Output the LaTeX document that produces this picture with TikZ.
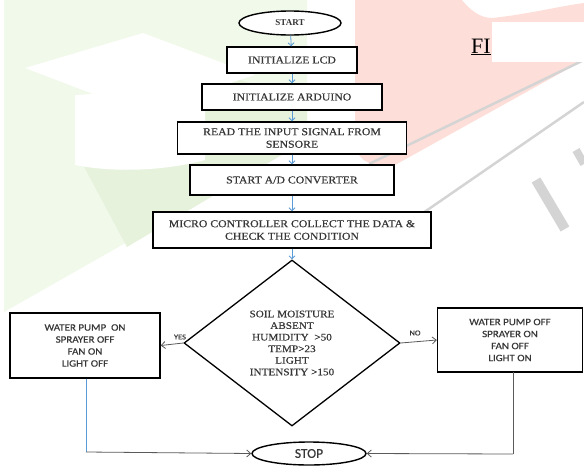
\documentclass[tikz,border=0pt]{standalone}
\usepackage{fontspec}
\setmainfont{Liberation Serif}
\newfontfamily\boxfont[FakeStretch=1.12,FakeBold=0.5]{Liberation Serif}
\newfontfamily\sidefont[FakeStretch=1.12,FakeBold=0.5]{Carlito}
\newfontfamily\stopfont[FakeBold=0.4]{Carlito}
\usetikzlibrary{shapes.geometric,arrows.meta}
\definecolor{flowblue}{RGB}{91,155,213}
\definecolor{txtgray}{RGB}{55,55,55}
\definecolor{wmgreen}{RGB}{241,249,234}
\definecolor{wmgreen2}{RGB}{231,242,221}
\definecolor{wmpink}{RGB}{253,222,216}
\definecolor{wmgray}{RGB}{212,212,212}
\definecolor{lingray}{RGB}{90,90,90}
\begin{document}
\begin{tikzpicture}[x=1pt,y=-1pt,
  procbox/.style={draw=black, fill=white, line width=1.4pt, rectangle, inner sep=0pt, align=center,
    text=txtgray, font=\boxfont\fontsize{10.5}{12.5}\selectfont},
  sidebox/.style={draw=black, fill=white, line width=1.4pt, rectangle, inner sep=0pt, align=center,
    text=txtgray, font=\sidefont\fontsize{9.8}{12}\selectfont},
  terminal/.style={draw=black, fill=white, line width=1.4pt, ellipse, inner sep=0pt},
  decision/.style={draw=black, line width=1.3pt, diamond, inner sep=0pt, align=center,
    text=txtgray, font=\boxfont\fontsize{10}{11.6}\selectfont},
  bluearrow/.style={draw=flowblue, line width=0.8pt, -{Straight Barb[length=3pt,width=6pt]}},
  grayarrow/.style={draw=lingray, line width=0.8pt, -{Straight Barb[length=4pt,width=7pt]}},
  blueline/.style={draw=flowblue, line width=0.9pt},
  grayline/.style={draw=lingray, line width=0.8pt},
  edgelabel/.style={text=txtgray, font=\sidefont\fontsize{7.5}{8}\selectfont, inner sep=0pt}
]
\useasboundingbox (0,0) rectangle (584,466);
% ---- watermark background ----
\fill[wmgreen] (4,0) -- (307,0) -- (307,140) -- (4,312) -- cycle;
\fill[wmgreen2] (75,150) -- (240,80) -- (307,100) -- (307,140) -- (127,247) -- cycle;
\fill[white] (25,68) -- (143,33) -- (255,75) -- (140,112) -- cycle;
\fill[white] (75,95) -- (205,88) -- (205,160) .. controls (160,172) and (110,172) .. (75,165) -- cycle;
\fill[wmpink] (355,0) -- (462,0) .. controls (470,10) and (480,18) .. (492,18)
  .. controls (530,14) and (560,6) .. (584,3) -- (584,60) -- (395,165)
  .. controls (370,168) and (355,160) .. (355,140) -- cycle;
\draw[wmgray, line width=2.5pt] (369,164) -- (584,60);
\draw[wmgray, line width=2.5pt] (423,213) -- (584,102);
\draw[wmgray, line width=10pt] (536,180) -- (565,229);
\draw[wmgray, line width=8pt] (576,150) -- (584,164);
\node[anchor=base west, inner sep=0pt, font=\fontsize{22}{24}\selectfont] (fig) at (471,53) {\underline{FI}};
\fill[white] (492,22) rectangle (584,62);
% ---- flowchart ----
\node[terminal, minimum width=102pt, minimum height=24pt,
  font=\fontsize{9}{10}\selectfont\bfseries, text=txtgray] (start) at (290,23) {START};
\node[procbox, minimum width=130pt, minimum height=26pt] (lcd) at (292,60) {INITIALIZE LCD};
\node[procbox, minimum width=180pt, minimum height=26pt] (ard) at (292,97) {INITIALIZE ARDUINO};
\node[procbox, minimum width=229pt, minimum height=32pt] (read) at (292,138) {READ THE INPUT SIGNAL FROM\\SENSORE};
\node[procbox, minimum width=204pt, minimum height=30pt] (ad) at (292,180) {START A/D CONVERTER};
\node[procbox, minimum width=278pt, minimum height=36pt] (micro) at (292,230) {MICRO CONTROLLER COLLECT THE DATA \&\\CHECK THE CONDITION};
\node[decision, minimum width=216pt, minimum height=166pt] (dec) at (292,343)
  {SOIL MOISTURE\\ABSENT\\HUMIDITY\ \ {>}50\\TEMP{>}23\\LIGHT\\INTENSITY {>}150};
\node[sidebox, minimum width=150pt, minimum height=65pt] (left) at (85,345.5)
  {WATER PUMP\ \ ON\\SPRAYER OFF\\FAN ON\\LIGHT OFF};
\node[sidebox, minimum width=145pt, minimum height=64pt] (right) at (510,340)
  {WATER PUMP OFF\\SPRAYER ON\\FAN OFF\\LIGHT ON};
\node[terminal, minimum width=114pt, minimum height=23pt,
  font=\stopfont\fontsize{13.5}{14}\selectfont, text=txtgray] (stop) at (309,453.5) {STOP};
% ---- connectors ----
\draw[bluearrow] (start) -- (lcd);
\draw[bluearrow] (lcd) -- (ard);
\draw[bluearrow] (ard) -- (read);
\draw[bluearrow] (read) -- (ad);
\draw[bluearrow] (ad) -- (micro);
\draw[bluearrow] (micro) -- (dec);
\draw[grayarrow] (dec.west) -- (left.east);
\node[edgelabel] (yes) at (180,337) {YES};
\draw[grayarrow] (dec.east) -- (right.west);
\node[edgelabel] (no) at (415,333) {NO};
\coordinate (lcorner) at (86,452);
\coordinate (rtop) at (513,372);
\coordinate (rcorner) at (513,454);
\draw[blueline] (left.south -| lcorner) -- (lcorner);
\draw[grayarrow] (lcorner) -- (stop.west);
\draw[grayline] (rtop) -- (rcorner);
\draw[grayarrow] (rcorner) -- (stop.east);
\end{tikzpicture}
\end{document}
